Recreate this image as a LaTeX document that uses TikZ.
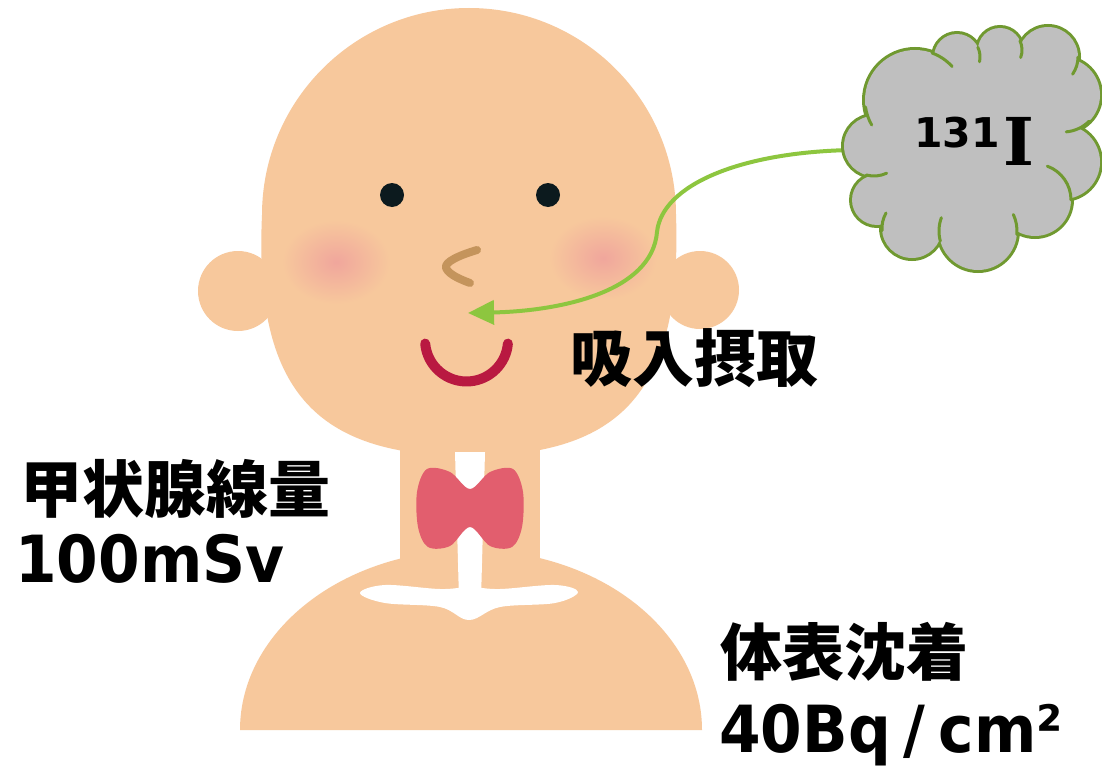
\documentclass[tikz,border=0pt]{standalone}
\usepackage{fontspec}
\setmainfont{DejaVu Sans}
\newfontfamily\jp{Noto Sans CJK JP}
\newfontfamily\slab{DejaVu Serif}
\newfontfamily\latin{DejaVu Sans}[FakeStretch=0.92]
\usetikzlibrary{arrows.meta}
\definecolor{skin}{RGB}{247,200,156}
\definecolor{blush}{RGB}{240,166,156}
\definecolor{thyroid}{RGB}{226,94,110}
\definecolor{lips}{RGB}{185,25,65}
\definecolor{nosec}{RGB}{196,148,92}
\definecolor{eyec}{RGB}{12,26,30}
\definecolor{arrowgreen}{RGB}{141,198,63}
\definecolor{cloudline}{RGB}{112,153,48}
\definecolor{cloudfill}{RGB}{191,191,191}
\tikzset{
  jplabel/.style={inner sep=0pt, font=\fontsize{62}{62}\selectfont\jp\bfseries},
  latlabel/.style={inner sep=0pt, anchor=base west, font=\fontsize{65}{65}\selectfont\latin\bfseries},
  feature/.style={line cap=round, line join=round},
  puffline/.style={cloudline, line width=3, line cap=round},
}
\begin{document}
\begin{tikzpicture}[x=1pt,y=-1pt]
\useasboundingbox (0,0) rectangle (1102,768);
\fill[white] (0,0) rectangle (1102,768);

% ears
\fill[skin] (238,291) circle[radius=40];
\fill[skin] (700,290) circle[radius=39];
% head: round crown, full cheeks
\fill[skin] (262,215) arc[start angle=180, end angle=360, radius=207]
  .. controls (682,390) and (623,456) .. (469,456)
  .. controls (315,456) and (254,390) .. (262,215) -- cycle;
% neck and shoulders
\fill[skin] (400,430) rectangle (540,600);
\fill[skin] (240,730) arc[start angle=180, end angle=360, x radius=231, y radius=180] -- cycle;

% windpipe and collarbones
\fill[white] (455,452) -- (485,452) -- (481,600) -- (459,600) -- cycle;
\fill[white] plot[smooth cycle, tension=0.6] coordinates {
  (360,593) (385,585) (440,589) (470,587) (500,589) (555,585) (578,592)
  (555,603) (500,607) (469,620) (440,607) (385,603)};

% thyroid gland
\fill[thyroid] plot[smooth cycle, tension=0.55] coordinates {
  (470,489) (490,472) (513,469) (523,492) (522,527) (512,547) (490,546)
  (470,527) (450,546) (428,547) (418,527) (417,492) (427,469) (450,472)};

% cheeks
\shade[inner color=blush, outer color=skin] (336,262) ellipse[x radius=54, y radius=42];
\shade[inner color=blush, outer color=skin] (603,258) ellipse[x radius=54, y radius=42];

% eyes, nose, mouth
\fill[eyec] (392,195) circle[radius=12];
\fill[eyec] (548,195) circle[radius=12];
\draw[feature, nosec, line width=8] (477,250) .. controls (460,255) and (444,262) .. (446,268)
  .. controls (449,275) and (462,280) .. (470,283);
\draw[feature, lips, line width=10] (425.2,343.6) arc[start angle=175, end angle=5, radius=41.5];

% intake arrow
\coordinate (src) at (852,150);
\coordinate (mouthin) at (468,313);
\draw[arrowgreen, line width=4, -{Triangle[length=26pt,width=24pt]}]
  (src) .. controls (740,152) and (662,185) .. (657,232)
  .. controls (652,292) and (560,311) .. (mouthin);

% iodine cloud: outlined puffs, filled over so only the outer rim shows
\def\puffs{(874,146)/30, (915,100)/50, (957,57)/23, (1000,50)/22, (1048,57)/30,
  (1063,95)/37, (1063,162)/37, (1035,200)/36, (978,231)/39, (912,228)/30, (877,200)/25}
\foreach \c/\r in \puffs { \draw[cloudline, line width=6] \c circle[radius=\r]; }
\foreach \c/\r in \puffs { \fill[cloudfill] \c circle[radius=\r]; }
\fill[cloudfill] (874,146) -- (915,100) -- (957,57) -- (1000,50) -- (1048,57) -- (1063,95)
  -- (1063,162) -- (1035,200) -- (978,231) -- (912,228) -- (877,200) -- cycle;
% short inner tails where the puffs meet
\foreach \cx/\cy/\r/\a/\b in {915/100/50/150/172, 915/100/50/290/318, 957/57/23/335/372,
  1000/50/22/335/380, 1048/57/30/0/35, 1063/95/37/45/85, 1035/200/36/290/360,
  978/231/39/335/365, 978/231/39/165/200, 912/228/30/175/210, 874/146/30/65/105}
  { \draw[puffline] ({\cx+\r*cos(\a)},{\cy+\r*sin(\a)}) arc[start angle=\a, end angle=\b, radius=\r]; }
\node[inner sep=0pt, anchor=base west] (iodine) at (914,165)
  {\raisebox{18pt}{\fontsize{41}{41}\selectfont\bfseries 131}\hspace{4pt}\fontsize{66}{66}\selectfont\slab\bfseries I};

% labels
\node[jplabel] (intake) at (694.5,358) {吸入摂取};
\node[jplabel] (organ) at (175.5,489) {甲状腺線量};
\node[latlabel] (dose) at (15,582) {100mSv};
\node[jplabel] (skinlbl) at (844.5,652) {体表沈着};
\node[latlabel] (deposit) at (719,752) {40Bq\hspace{13pt}/\hspace{13pt}cm²};
\end{tikzpicture}
\end{document}
